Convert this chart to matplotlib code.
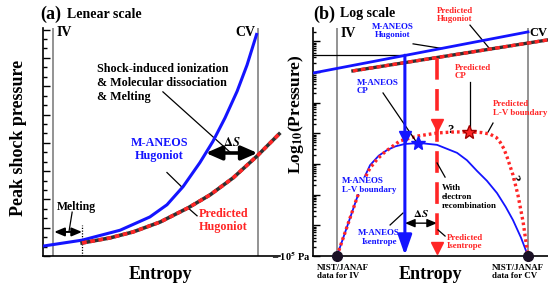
import numpy as np
import matplotlib
matplotlib.use("Agg")
import matplotlib.pyplot as plt
from matplotlib.ticker import MultipleLocator, FixedLocator

plt.rcParams.update({"font.family": "Liberation Serif", "font.weight": "bold",
                     "axes.labelweight": "bold",
                     "mathtext.fontset": "stix", "mathtext.default": "bf",
                     "axes.linewidth": 1.2})

BLUE = "#1414ff"
RED = "#ff2626"
GREY = "#8a8a8a"

# ---------------- (a) linear scale: entropy (a.u.) vs peak shock pressure (a.u.)
iv_a, cv_a = 0.42, 9.07
hug_mA_s = [0.0, 1.65, 3.25, 4.51, 5.23, 5.91, 6.62, 7.17, 7.68, 8.19, 8.61, 9.03]
hug_mA_p = [0.35, 0.56, 0.91, 1.38, 1.81, 2.45, 3.30, 4.05, 4.88, 5.82, 6.75, 7.88]
hug_pred_s = [1.65, 2.83, 3.80, 4.94, 6.12, 7.05, 8.02, 9.03, 9.96]
hug_pred_p = [0.46, 0.64, 0.85, 1.20, 1.70, 2.16, 2.76, 3.53, 4.31]
melt_s = 1.65

# ---------------- (b) log scale: entropy (a.u.) vs log10(pressure / Pa)
iv_b, cv_b = 1.02, 9.15
p_floor = 5.0
hugb_mA_s = [0.0, 9.15]
hugb_mA_p = [10.96, 12.30]
hugb_pred_s = [1.70, 10.0]
hugb_pred_p = [11.03, 12.04]
lv_mA_s = [1.02, 1.87, 2.15, 2.43, 2.8, 3.15, 3.5, 3.91, 4.55, 5.28, 6.13, 6.55, 6.98,
           7.4, 7.83, 8.2, 8.51, 8.85, 9.15]
lv_mA_p = [5.0, 6.89, 7.5, 7.96, 8.27, 8.45, 8.57, 8.65, 8.68, 8.62, 8.36, 8.12, 7.77,
           7.45, 7.05, 6.6, 6.17, 5.6, 5.0]
lv_pred_s = [1.02, 1.87, 2.15, 2.43, 2.75, 3.06, 3.70, 4.47, 5.32, 6.0, 6.68, 7.2,
             7.53, 7.8, 7.96, 8.12, 8.26, 8.51, 8.72, 8.94, 9.15]
lv_pred_p = [5.0, 6.89, 7.45, 7.87, 8.17, 8.39, 8.75, 8.91, 9.01, 9.04, 9.04, 9.02,
             8.97, 8.86, 8.71, 8.5, 8.22, 7.64, 6.99, 6.11, 5.0]
cp_mA = (4.47, 8.68)
cp_pred = (6.64, 9.04)
s_isen_mA = 3.91
s_isen_pred = 5.28
p_hug_mA = 11.54
p_hug_pred = 11.45

fig = plt.figure(figsize=(5.48, 2.88), dpi=100)
axa = fig.add_axes([43/548, 32/288, 237/548, 228/288])
axb = fig.add_axes([313/548, 32/288, 235/548, 228/288])

for ax in (axa, axb):
    ax.spines["top"].set_visible(False)
    ax.spines["right"].set_visible(False)
    ax.set_xticks([])
    ax.set_xlim(0, 10)

# ---- (a) --------------------------------------------------------------------
axa.set_ylim(0, 228/28.3)
axa.yaxis.set_major_locator(MultipleLocator(1))
axa.yaxis.set_minor_locator(MultipleLocator(1/3))
axa.tick_params(axis="y", which="both", direction="in", labelleft=False, width=1)
axa.tick_params(axis="y", which="major", length=5)
axa.tick_params(axis="y", which="minor", length=3)

axa.axvline(iv_a, color=GREY, lw=1.3)
axa.axvline(cv_a, color=GREY, lw=1.3)
axa.text(iv_a + 0.15, 7.9, "IV", fontsize=10, va="center", ha="left")
axa.text(cv_a - 0.1, 7.9, "CV", fontsize=10, va="center", ha="right")

axa.plot(hug_mA_s, hug_mA_p, color=BLUE, lw=2.2, solid_capstyle="butt",
         solid_joinstyle="round", zorder=4)
axa.plot(hug_pred_s, hug_pred_p, color="#303030", lw=2.6, zorder=4, clip_on=False)
axa.plot(hug_pred_s, hug_pred_p, color=RED, lw=2.6, ls=(0, (1.3, 1.0)), zorder=5,
         clip_on=False)
axa.plot([melt_s, melt_s], [0, 1.10], color="k", lw=0.9, ls=(0, (1, 1.2)))

axa.annotate("", xy=(iv_a + 0.05, 0.85), xytext=(melt_s, 0.85),
             arrowprops=dict(arrowstyle="<|-|>,head_width=0.25,head_length=0.6",
                             color="k", lw=1.4, shrinkA=0, shrinkB=0, mutation_scale=10))
axa.text(1.43, 1.73, "Melting", fontsize=8.5, ha="center", va="center")
axa.plot([1.23, 1.10], [1.55, 0.88], color="k", lw=0.9)

axa.annotate("", xy=(6.87, 3.64), xytext=(9.05, 3.64),
             arrowprops=dict(arrowstyle="<|-|>,head_width=0.35,head_length=0.8",
                             color="k", lw=2.6, shrinkA=0, shrinkB=0, mutation_scale=12),
             zorder=6)
axa.text(7.95, 4.0, r"$\Delta\mathit{S}$", fontsize=9, ha="center", va="center")
axa.text(2.28, 6.11, "Shock-induced ionization\n& Molecular dissociation\n& Melting",
         fontsize=8.7, ha="left", va="center", linespacing=1.2)
axa.plot([5.06, 7.93], [5.80, 3.64], color="k", lw=0.9)

axa.text(4.9, 3.75, "M-ANEOS\nHugoniot", color=BLUE, fontsize=8.7, ha="center",
         va="center", linespacing=1.1)
axa.plot([5.23, 5.88], [2.95, 2.42], color="k", lw=0.9)
axa.text(7.6, 1.27, "Predicted\nHugoniot", color=RED, fontsize=8.7, ha="center",
         va="center", linespacing=1.1)
axa.plot([6.12, 6.5], [1.70, 1.42], color="k", lw=0.9)

axa.set_xlabel("Entropy", fontsize=13)
axa.xaxis.set_label_coords(0.494, -0.045)
axa.set_ylabel("Peak shock pressure", fontsize=13)
axa.yaxis.set_label_coords(-0.068, 0.52)
fig.text(40/548, 1 - 14/288, "(a)", fontsize=13, ha="left", va="center")
fig.text(67/548, 1 - 14/288, "Lenear scale", fontsize=10, ha="left", va="center")

# ---- (b) --------------------------------------------------------------------
axb.set_ylim(p_floor, p_floor + 228/30.7)
axb.yaxis.set_major_locator(FixedLocator(np.arange(5, 13)))
axb.yaxis.set_minor_locator(FixedLocator(
    [d + np.log10(k) for d in range(5, 13) for k in range(2, 10)]))
axb.set_yticklabels(["– 10$^5$ Pa"] + [""] * 7)
axb.tick_params(axis="y", which="both", direction="in", width=1, labelsize=7.5, pad=2)
axb.tick_params(axis="y", which="major", length=5)
axb.tick_params(axis="y", which="minor", length=2.5)

axb.axvline(iv_b, color=GREY, lw=1.3)
axb.axvline(cv_b, color=GREY, lw=1.3)
axb.text(iv_b + 0.15, 12.26, "IV", fontsize=10, va="center", ha="left")
axb.text(cv_b + 0.06, 12.26, "CV", fontsize=9, va="center", ha="left", clip_on=False)

axb.plot(hugb_mA_s, hugb_mA_p, color=BLUE, lw=2, zorder=4)
axb.plot(hugb_pred_s, hugb_pred_p, color="#303030", lw=2.4, zorder=3, clip_on=False)
axb.plot(hugb_pred_s, hugb_pred_p, color=RED, lw=2.4, ls=(0, (1.4, 1.0)), zorder=3,
         clip_on=False)
axb.plot([0, s_isen_mA], [p_hug_mA, p_hug_mA], color="k", lw=0.9, zorder=2)

axb.plot(lv_mA_s, lv_mA_p, color=BLUE, lw=1.3, zorder=3)
axb.plot(lv_pred_s, lv_pred_p, color=RED, lw=2.4, ls=(0, (0.8, 0.9)), zorder=4)
axb.plot(*cp_mA, marker="*", ms=10, color=BLUE, zorder=6)
axb.plot(*cp_pred, marker="*", ms=10, color=RED, mec="#a00000", zorder=6)

axb.annotate("", xy=(s_isen_mA, 5.03), xytext=(s_isen_mA, p_hug_mA),
             arrowprops=dict(arrowstyle="-|>,head_width=0.35,head_length=1.0",
                             color=BLUE, lw=2.2, shrinkA=0, shrinkB=0, mutation_scale=12),
             zorder=5)
axb.plot(s_isen_mA, 8.88, marker="v", ms=9, color=BLUE, zorder=5)
axb.plot([s_isen_pred, s_isen_pred], [p_hug_pred, 5.3], color=RED, lw=2.6,
         ls=(0, (6, 2.6)), zorder=5)
axb.plot([s_isen_pred] * 2, [9.27, 5.26], ls="none", marker="v", ms=9, color=RED, zorder=6)

axb.annotate("", xy=(s_isen_mA, 6.07), xytext=(s_isen_pred, 6.07),
             arrowprops=dict(arrowstyle="<|-|>,head_width=0.25,head_length=0.6",
                             color="k", lw=1.0, shrinkA=0, shrinkB=0, mutation_scale=10))
axb.text(4.6, 6.40, r"$\Delta\mathit{S}$", fontsize=8, ha="center", va="center")

fs = 6.4
axb.text(3.40, 12.33, "M-ANEOS\nHugoniot", color=BLUE, fontsize=fs, ha="center",
         va="center", linespacing=1.05, clip_on=False)
axb.plot([4.26, 5.49], [11.91, 11.76], color="k", lw=0.9)
axb.text(6.04, 12.85, "Predicted\nHugoniot", color=RED, fontsize=fs, ha="center",
         va="center", linespacing=1.05, clip_on=False)
axb.plot([6.68, 7.53], [12.52, 11.74], color="k", lw=0.9, clip_on=False)
axb.text(1.87, 10.50, "M-ANEOS\nCP", color=BLUE, fontsize=fs, ha="left", va="center",
         linespacing=1.05)
axb.plot([2.98, 4.43], [10.31, 8.68], color="k", lw=0.9, zorder=4)
axb.text(6.04, 10.99, "Predicted\nCP", color=RED, fontsize=fs, ha="left", va="center",
         linespacing=1.05)
axb.plot([6.68, 6.68], [10.67, 9.2], color="k", lw=0.9)
axb.text(7.66, 9.80, "Predicted\nL-V boundary", color=RED, fontsize=fs, ha="left",
         va="center", linespacing=1.05, clip_on=False)
axb.plot([7.66, 7.45], [9.33, 9.04], color="k", lw=0.9)
axb.text(5.83, 9.10, "?", fontsize=9, ha="center", va="center")
axb.text(8.55, 7.54, "?", fontsize=9.5, ha="center", va="center", rotation=-75)
axb.text(1.23, 7.30, "M-ANEOS\nL-V boundary", color=BLUE, fontsize=fs, ha="left",
         va="center", linespacing=1.05, zorder=7,
         bbox=dict(boxstyle="square,pad=0.05", fc="white", ec="none"))
axb.text(5.49, 6.92, "With\nelectron\nrecombination", color="k", fontsize=fs,
         ha="left", va="center", linespacing=1.1)
axb.plot([5.28, 5.62], [8.03, 7.57], color="k", lw=0.9, zorder=6)
axb.text(2.81, 5.60, "M-ANEOS\nIsentrope", color=BLUE, fontsize=fs, ha="center",
         va="center", linespacing=1.05)
axb.plot([3.28, 3.83], [6.01, 6.40], color="k", lw=0.9)
axb.text(5.70, 5.46, "Predicted\nIsentrope", color=RED, fontsize=fs, ha="left",
         va="center", linespacing=1.05)
axb.plot([5.32, 5.62], [5.85, 5.65], color="k", lw=0.9, zorder=6)

axb.plot([iv_b, cv_b], [p_floor, p_floor], ls="none", marker="o", ms=7,
         color="#1a1025", zorder=8, clip_on=False)
axb.text(0.17, 4.48, "NIST/JANAF\ndata for IV", fontsize=fs, ha="left", va="center",
         linespacing=1.15, clip_on=False)
axb.text(7.62, 4.48, "NIST/JANAF\ndata for CV", fontsize=fs, ha="left", va="center",
         linespacing=1.15, clip_on=False)

axb.set_xlabel("Entropy", fontsize=13)
axb.xaxis.set_label_coords(0.498, -0.045)
axb.set_ylabel("Log$_{10}$(Pressure)", fontsize=12.5)
axb.yaxis.set_label_coords(-0.03, 0.62)
fig.text(313/548, 1 - 14/288, "(b)", fontsize=13, ha="left", va="center")
fig.text(340/548, 1 - 14/288, "Log scale", fontsize=10, ha="left", va="center")

fig.savefig("out.png", dpi=100)
